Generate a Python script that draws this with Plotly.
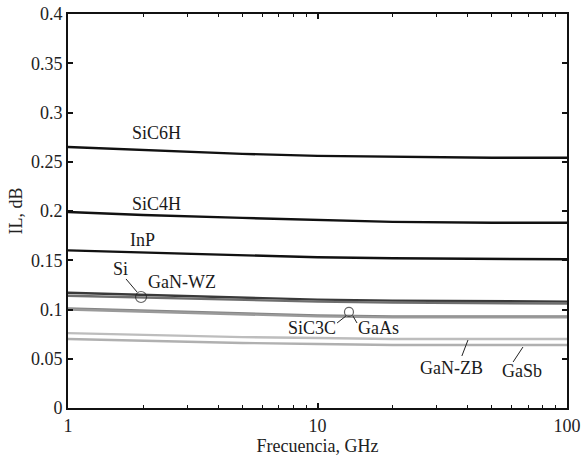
import plotly.graph_objects as go
import numpy as np

freq = [1, 2, 5, 10, 20, 50, 100]
materials = ["SiC6H", "SiC4H", "InP", "Si", "GaN-WZ", "SiC3C", "GaAs", "GaN-ZB", "GaSb"]
il_SiC6H = [0.265, 0.262, 0.258, 0.256, 0.255, 0.254, 0.254]
il_SiC4H = [0.199, 0.196, 0.193, 0.191, 0.189, 0.188, 0.188]
il_InP = [0.160, 0.158, 0.155, 0.153, 0.152, 0.151, 0.151]
il_Si = [0.117, 0.115, 0.112, 0.110, 0.109, 0.108, 0.108]
il_GaN_WZ = [0.114, 0.112, 0.110, 0.108, 0.107, 0.106, 0.106]
il_SiC3C = [0.101, 0.099, 0.096, 0.094, 0.093, 0.093, 0.093]
il_GaAs = [0.100, 0.098, 0.095, 0.093, 0.092, 0.092, 0.092]
il_GaN_ZB = [0.076, 0.074, 0.072, 0.071, 0.070, 0.070, 0.070]
il_GaSb = [0.070, 0.068, 0.066, 0.065, 0.064, 0.064, 0.064]
series = [il_SiC6H, il_SiC4H, il_InP, il_Si, il_GaN_WZ, il_SiC3C, il_GaAs, il_GaN_ZB, il_GaSb]
colors = ["#111111", "#111111", "#111111", "#3a3a3a", "#6e6e6e", "#858585", "#9a9a9a", "#bdbdbd", "#b0b0b0"]

y_ticks = [0, 0.05, 0.1, 0.15, 0.2, 0.25, 0.3, 0.35, 0.4]
y_ticktext = ["0", "0.05", "0.1", "0.15", "0.2", "0.25", "0.3", "0.35", "0.4"]
x_ticks = [1, 10, 100]
x_ticktext = ["1", "10", "100"]
x_minor = [2, 3, 4, 5, 6, 7, 8, 9, 20, 30, 40, 50, 60, 70, 80, 90]

# label positions (x as frequency, y as IL)
labels = ["SiC6H", "SiC4H", "InP", "Si", "GaN-WZ", "SiC3C", "GaAs", "GaN-ZB", "GaSb"]
label_f = [2.27, 2.27, 1.98, 1.63, 2.86, 9.5, 17.5, 34.3, 66.1]
label_y = [0.279, 0.207, 0.1706, 0.141, 0.128, 0.0812, 0.0812, 0.0406, 0.0376]

# leader lines
leaders = [
    ([1.708, 1.891], [0.131, 0.1178]),
    ([11.98, 13.0], [0.0863, 0.0934]),
    ([13.87, 14.4], [0.0934, 0.0863]),
    ([40.1, 37.9], [0.069, 0.0528]),
    ([66.6, 60.8], [0.0619, 0.0467]),
]
circles_f = [1.962, 13.37]
circles_y = [0.1127, 0.0975]
circles_size = [11, 9]

font_family = "Liberation Serif"

fig = go.Figure()
for name, ys, c in zip(materials, series, colors):
    fig.add_trace(go.Scatter(x=freq, y=ys, mode="lines", name=name,
                             line=dict(color=c, width=2.4, shape="linear"),
                             showlegend=False))
for lx, ly in leaders:
    fig.add_trace(go.Scatter(x=lx, y=ly, mode="lines", line=dict(color="#222222", width=1),
                             showlegend=False))
fig.add_trace(go.Scatter(x=circles_f, y=circles_y, mode="markers", showlegend=False,
                         marker=dict(symbol="circle-open", size=circles_size,
                                     color="#222222", line=dict(width=1.2, color="#222222"))))

for t, f, y in zip(labels, label_f, label_y):
    fig.add_annotation(x=np.log10(f), y=y, text=t, showarrow=False,
                       font=dict(family=font_family, size=18, color="#1a1a1a"))

fig.update_layout(
    width=583, height=456,
    margin=dict(l=68, r=16, t=14, b=48),
    paper_bgcolor="white", plot_bgcolor="white",
    font=dict(family=font_family, size=18, color="#222222"),
)
fig.update_xaxes(
    type="log", range=[0, 2], automargin=False,
    tickvals=x_ticks, ticktext=x_ticktext,
    ticks="inside", ticklen=5, tickwidth=1.5, tickcolor="#111111",
    tickfont=dict(family=font_family, size=18),
    minor=dict(tickvals=x_minor, ticks="inside", ticklen=3, tickwidth=1.2, tickcolor="#111111", showgrid=False),
    showline=True, linecolor="#111111", linewidth=2, mirror="ticks",
    showgrid=False, zeroline=False,
    title=dict(text="Frecuencia, GHz", standoff=0, font=dict(family=font_family, size=18)),
)
fig.update_yaxes(
    range=[0, 0.4], automargin=False,
    tickvals=y_ticks, ticktext=y_ticktext,
    ticks="inside", ticklen=5, tickwidth=1.5, tickcolor="#111111",
    tickfont=dict(family=font_family, size=18),
    showline=True, linecolor="#111111", linewidth=2, mirror="ticks",
    showgrid=False, zeroline=False,
    title=dict(text="IL, dB", standoff=4, font=dict(family=font_family, size=18)),
)

fig.write_html("out.html")
